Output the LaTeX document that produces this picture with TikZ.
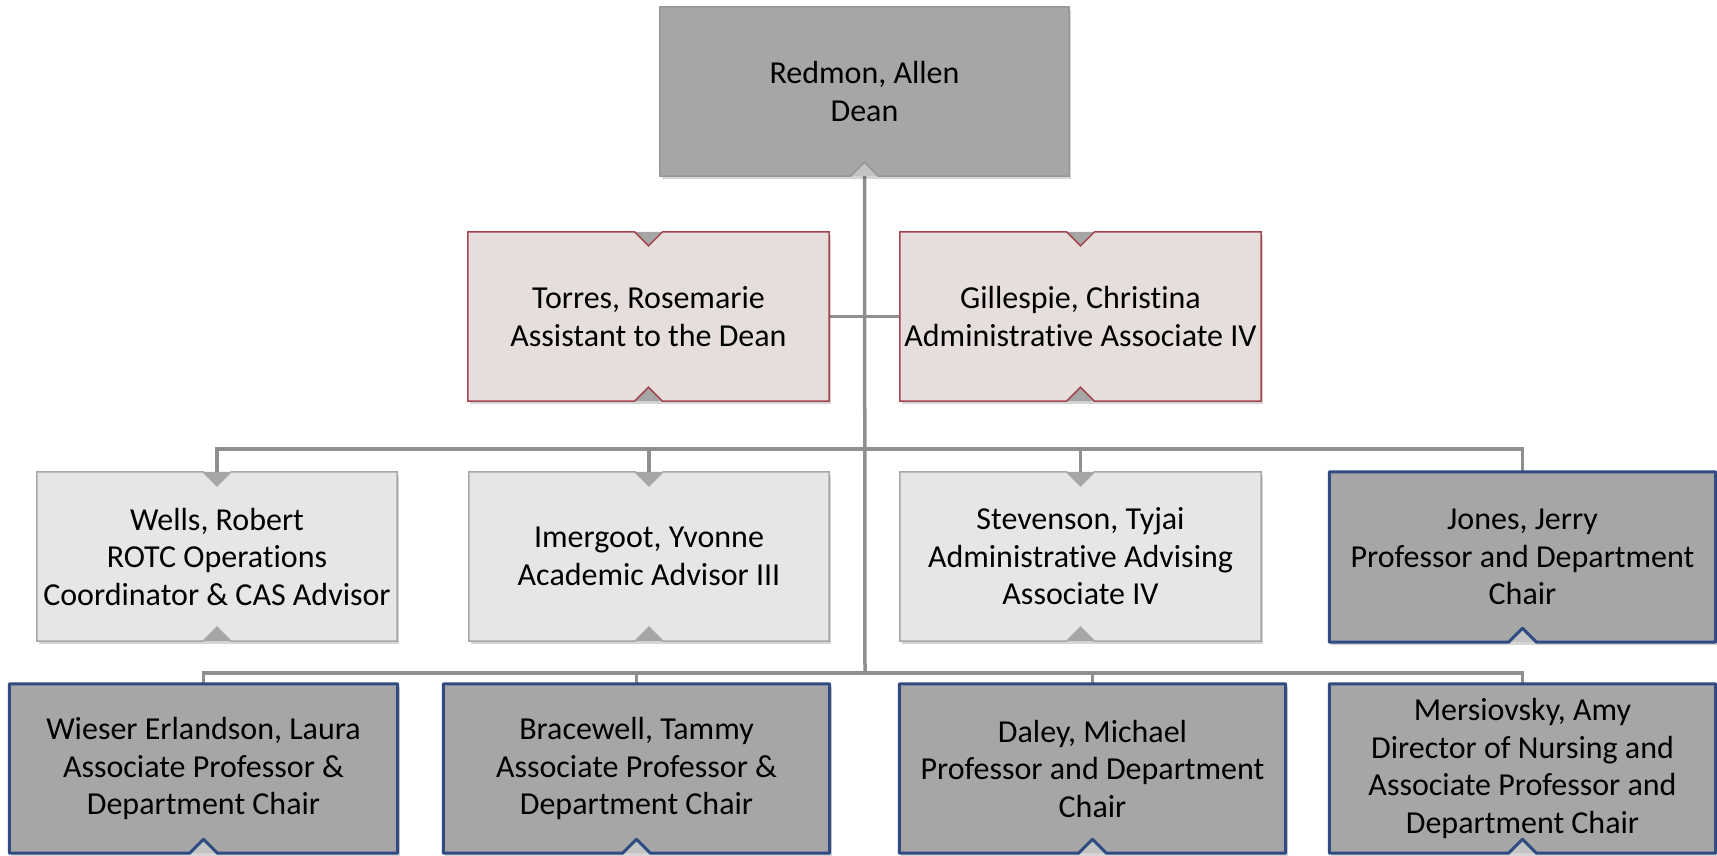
\documentclass[tikz,border=0pt]{standalone}
\usepackage{fontspec}
\setmainfont{Carlito}[Ligatures=NoCommon]
\pgfdeclarelayer{bg}
\pgfdeclarelayer{shadow}
\pgfsetlayers{bg,shadow,main}
\definecolor{linecol}{HTML}{8F8F8F}
\definecolor{deanfillc}{HTML}{A6A6A6}
\definecolor{deanlinec}{HTML}{979797}
\definecolor{pinkfillc}{HTML}{E6DDDD}
\definecolor{pinklinec}{HTML}{A4464F}
\definecolor{lightfillc}{HTML}{E6E6E6}
\definecolor{lightlinec}{HTML}{A8A8A8}
\definecolor{darkfillc}{HTML}{A6A6A6}
\definecolor{darklinec}{HTML}{2F4B82}
\definecolor{notchc}{HTML}{A6A6A6}
\definecolor{notchlc}{HTML}{C4C4C4}
\tikzset{
  box/.style={rectangle, inner sep=0pt, align=center,
    font=\fontsize{32}{37.5}\selectfont, text=black},
  conn/.style={draw=linecol, line width=3.5pt},
  deanfill/.style={fill=deanfillc},
  deanline/.style={draw=deanlinec, line width=1.5pt, line join=miter},
  deannotch/.style={fill=notchlc},
  pinkfill/.style={fill=pinkfillc},
  pinkline/.style={draw=pinklinec, line width=1.5pt, line join=miter},
  pinknotch/.style={fill=notchc},
  lightfill/.style={fill=lightfillc},
  lightline/.style={draw=lightlinec, line width=1.5pt, line join=miter},
  lightnotch/.style={fill=notchc},
  darkfill/.style={fill=darkfillc},
  darkline/.style={draw=darklinec, line width=3pt, line join=round},
  darknotch/.style={fill=notchlc},
  shadowstyle/.style={fill=black, opacity=0.16},
}
% #1 kind, #2 name, #3 x, #4 y, #5 w, #6 h, #7 text, #8 top notch (1/0)
\newcommand\mkbox[8]{%
  \node[box, #1fill, minimum width=#5pt, minimum height=#6pt] (#2) at (#3,#4) {#7};
  \begin{pgfonlayer}{shadow}
    \fill[shadowstyle] ([shift={(2pt,-3pt)}]#2.north west) rectangle ([shift={(2pt,-3pt)}]#2.south east);
  \end{pgfonlayer}
  \fill[#1notch] ([xshift=-14pt]#2.south) -- ([yshift=14pt]#2.south) -- ([xshift=14pt]#2.south) -- cycle;
  \ifnum#8=1
    \fill[#1notch] ([xshift=-14pt]#2.north) -- ([yshift=-14pt]#2.north) -- ([xshift=14pt]#2.north) -- cycle;
    \draw[#1line] (#2.north west) -- ([xshift=-14pt]#2.north) -- ([yshift=-14pt]#2.north) -- ([xshift=14pt]#2.north) -- (#2.north east) -- (#2.south east) -- ([xshift=14pt]#2.south) -- ([yshift=14pt]#2.south) -- ([xshift=-14pt]#2.south) -- (#2.south west) -- cycle;
  \else
    \draw[#1line] (#2.north west) -- (#2.north east) -- (#2.south east) -- ([xshift=14pt]#2.south) -- ([yshift=14pt]#2.south) -- ([xshift=-14pt]#2.south) -- (#2.south west) -- cycle;
  \fi
}
\begin{document}
\begin{tikzpicture}[x=1pt,y=-1pt]
\useasboundingbox (0,0) rectangle (1717,855);
\begin{pgfonlayer}{bg}
  \fill[white] (0,0) rectangle (1717,855);
\end{pgfonlayer}

\mkbox{dean}{dean}{864.5}{91.5}{409}{169}{Redmon, Allen\\Dean}{0}

\mkbox{pink}{torres}{648.5}{316.5}{361}{169}{Torres, Rosemarie\\Assistant to the Dean}{1}
\mkbox{pink}{gillespie}{1080.5}{316.5}{361}{169}{Gillespie, Christina\\Administrative Associate IV}{1}

\mkbox{light}{wells}{217}{556.5}{360}{169}{Wells, Robert\\ROTC Operations\\Coordinator \& CAS Advisor}{1}
\mkbox{light}{imergoot}{649}{556.5}{360}{169}{Imergoot, Yvonne\\Academic Advisor III}{1}
\mkbox{light}{stevenson}{1080.5}{556.5}{361}{169}{Stevenson, Tyjai\\Administrative Advising\\Associate IV}{1}
\mkbox{dark}{jones}{1522.5}{557}{386}{170}{Jones, Jerry\\Professor and Department\\Chair}{0}

\mkbox{dark}{wieser}{203.5}{768.5}{388}{169}{Wieser Erlandson, Laura\\Associate Professor \&\\Department Chair}{0}
\mkbox{dark}{bracewell}{636.5}{768.5}{386}{169}{Bracewell, Tammy\\Associate Professor \&\\Department Chair}{0}
\mkbox{dark}{daley}{1092.5}{768.5}{386}{169}{Daley, Michael\\Professor and Department\\Chair}{0}
\mkbox{dark}{mersiovsky}{1522.5}{768.5}{386}{169}{Mersiovsky, Amy\\Director of Nursing and\\Associate Professor and\\Department Chair}{0}

\coordinate (j3) at (865,449);
\coordinate (j4) at (865,673);
\begin{pgfonlayer}{bg}
  \draw[conn] ([yshift=14pt]dean.south) -- (j4);
  \draw[conn] (torres.east) -- (gillespie.west);
  \draw[conn] (wells.north) |- (j3) -| (jones.north);
  \draw[conn] (imergoot.north) |- (j3);
  \draw[conn] (stevenson.north) |- (j3);
  \draw[conn] (wieser.north) |- (j4) -| (mersiovsky.north);
  \draw[conn] (bracewell.north) |- (j4);
  \draw[conn] (daley.north) |- (j4);
\end{pgfonlayer}
\end{tikzpicture}
\end{document}
